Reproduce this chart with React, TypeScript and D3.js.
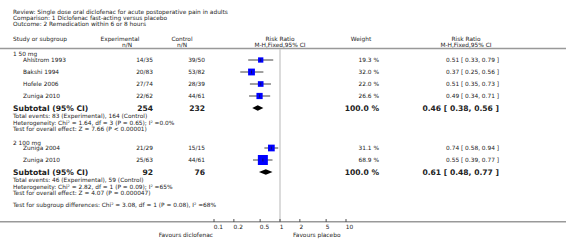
import React from "react";
import * as d3 from "d3";

const titleLines = [
  "Review:  Single dose oral diclofenac for acute postoperative pain in adults",
  "Comparison:  1 Diclofenac fast-acting versus placebo",
  "Outcome:  2 Remedication within 6 or 8 hours",
];

const g1Name = "1 50 mg";
const g1Studies = ["Ahlstrom 1993", "Bakshi 1994", "Hofele 2006", "Zuniga 2010"];
const g1ExpEvents = [14, 20, 27, 22];
const g1ExpTotal = [35, 83, 74, 62];
const g1CtlEvents = [39, 53, 28, 44];
const g1CtlTotal = [50, 82, 39, 61];
const g1Weight = [19.3, 32.0, 22.0, 26.6];
const g1RR = [0.51, 0.37, 0.51, 0.49];
const g1Lo = [0.33, 0.25, 0.35, 0.34];
const g1Hi = [0.79, 0.56, 0.73, 0.71];
const g1Sub = { exp: 254, ctl: 232, rr: 0.46, lo: 0.38, hi: 0.56 };
const g1Foot = [
  "Total events: 83 (Experimental), 164 (Control)",
  "Heterogeneity: Chi² = 1.64, df = 3 (P = 0.65); I² =0.0%",
  "Test for overall effect: Z = 7.66 (P < 0.00001)",
];

const g2Name = "2 100 mg";
const g2Studies = ["Zuniga 2004", "Zuniga 2010"];
const g2ExpEvents = [21, 25];
const g2ExpTotal = [29, 63];
const g2CtlEvents = [15, 44];
const g2CtlTotal = [15, 61];
const g2Weight = [31.1, 68.9];
const g2RR = [0.74, 0.55];
const g2Lo = [0.58, 0.39];
const g2Hi = [0.94, 0.77];
const g2Sub = { exp: 92, ctl: 76, rr: 0.61, lo: 0.48, hi: 0.77 };
const g2Foot = [
  "Total events: 46 (Experimental), 59 (Control)",
  "Heterogeneity: Chi² = 2.82, df = 1 (P = 0.09); I² =65%",
  "Test for overall effect: Z = 4.07 (P = 0.000047)",
];

const subgroupTest = "Test for subgroup differences: Chi² = 3.08, df = 1 (P = 0.08), I² =68%";
const axisTicks = [0.1, 0.2, 0.5, 1, 2, 5, 10];
const favoursLeft = "Favours diclofenac";
const favoursRight = "Favours placebo";

const FONT = "DejaVu Sans, Verdana, sans-serif";
const TXT = "#222";
const f2 = (v: number) => v.toFixed(2);

export default function App() {
  const W = 566, H = 245;
  const x = d3.scaleLog().domain([0.1, 10]).range([214, 346]);
  const maxW = d3.max([...g1Weight, ...g2Weight]) as number;
  const side = d3.scaleSqrt().domain([0, maxW]).range([0, 10]);

  const colExp = 153, colCtl = 205, colW = 379, colRR = 499;
  const sm = 5.85, bd = 7.6;

  const T = (props: any) => (
    <text fontFamily={FONT} fontSize={sm} fill={TXT} {...props} />
  );
  const B = (props: any) => (
    <text fontFamily={FONT} fontSize={bd} fontWeight="bold" fill={TXT} {...props} />
  );

  const renderGroup = (
    name: string, yName: number, rowY: number[], studies: string[],
    ee: number[], et: number[], ce: number[], ct: number[], w: number[],
    rr: number[], lo: number[], hi: number[], sub: any, ySub: number,
    foot: string[], yFoot: number[]
  ) => (
    <g>
      <T x={13} y={yName + 2.1}>{name}</T>
      {studies.map((s, i) => {
        const y = rowY[i];
        const sz = side(w[i]);
        return (
          <g key={s + i}>
            <T x={23} y={y + 2.1}>{s}</T>
            <T x={colExp} y={y + 2.1} textAnchor="end">{`${ee[i]}/${et[i]}`}</T>
            <T x={colCtl} y={y + 2.1} textAnchor="end">{`${ce[i]}/${ct[i]}`}</T>
            <T x={colW} y={y + 2.1} textAnchor="end">{`${w[i].toFixed(1)} %`}</T>
            <T x={colRR} y={y + 2.1} textAnchor="end">{`${f2(rr[i])} [ ${f2(lo[i])}, ${f2(hi[i])} ]`}</T>
            <line x1={x(lo[i])} x2={x(hi[i])} y1={y} y2={y} stroke="#111" strokeWidth={0.8} />
            <rect x={x(rr[i]) - sz / 2} y={y - sz / 2} width={sz} height={sz} fill="#0000ff" />
            <line x1={x(rr[i])} x2={x(rr[i])} y1={y - 1.5} y2={y + 1.5} stroke="#111" strokeWidth={0.6} />
          </g>
        );
      })}
      <B x={13} y={ySub + 2.7}>Subtotal (95% CI)</B>
      <B x={colExp} y={ySub + 2.7} textAnchor="end">{sub.exp}</B>
      <B x={colCtl} y={ySub + 2.7} textAnchor="end">{sub.ctl}</B>
      <B x={colW} y={ySub + 2.7} textAnchor="end">100.0 %</B>
      <B x={colRR} y={ySub + 2.7} textAnchor="end">{`${f2(sub.rr)} [ ${f2(sub.lo)}, ${f2(sub.hi)} ]`}</B>
      <path
        d={`M${x(sub.lo)},${ySub} L${x(sub.rr)},${ySub - 2.8} L${x(sub.hi)},${ySub} L${x(sub.rr)},${ySub + 2.8} Z`}
        fill="#000"
      />
      {foot.map((t, i) => (
        <T key={i} x={13} y={yFoot[i] + 2.1}>{t}</T>
      ))}
    </g>
  );

  return (
    <svg width={W} height={H} style={{ position: "absolute", left: 0, top: 0, background: "#fff" }}>
      <rect width={W} height={H} fill="#fff" />
      {titleLines.map((t, i) => (
        <T key={i} x={13} y={[12, 18.3, 24.3][i] + 2.1}>{t}</T>
      ))}
      <T x={13} y={39 + 2.1}>Study or subgroup</T>
      <T x={120} y={39 + 2.1} textAnchor="middle">Experimental</T>
      <T x={127} y={45 + 2.1} textAnchor="middle">n/N</T>
      <T x={182} y={39 + 2.1} textAnchor="middle">Control</T>
      <T x={182} y={45 + 2.1} textAnchor="middle">n/N</T>
      <T x={280} y={39 + 2.1} textAnchor="middle">Risk Ratio</T>
      <T x={280} y={45 + 2.1} textAnchor="middle">M-H,Fixed,95% CI</T>
      <T x={361} y={39 + 2.1} textAnchor="middle">Weight</T>
      <T x={466} y={39 + 2.1} textAnchor="middle">Risk Ratio</T>
      <T x={466} y={45 + 2.1} textAnchor="middle">M-H,Fixed,95% CI</T>
      <line x1={0} x2={W} y1={48.5} y2={48.5} stroke="#999" strokeWidth={1.4} />
      <line x1={x(1)} x2={x(1)} y1={49} y2={221} stroke="#ccc" strokeWidth={1.4} />

      {renderGroup(g1Name, 54, [60, 72, 84, 96], g1Studies, g1ExpEvents, g1ExpTotal, g1CtlEvents, g1CtlTotal,
        g1Weight, g1RR, g1Lo, g1Hi, g1Sub, 108, g1Foot, [115.5, 122.5, 129])}
      {renderGroup(g2Name, 142.5, [148, 160], g2Studies, g2ExpEvents, g2ExpTotal, g2CtlEvents, g2CtlTotal,
        g2Weight, g2RR, g2Lo, g2Hi, g2Sub, 172, g2Foot, [179.5, 186.5, 193])}
      <T x={13} y={205 + 2.1}>{subgroupTest}</T>

      <line x1={0} x2={W} y1={221.8} y2={221.8} stroke="#999" strokeWidth={1.4} />
      {axisTicks.map((t) => (
        <g key={t}>
          <line x1={x(t)} x2={x(t)} y1={219} y2={221.8} stroke="#222" strokeWidth={0.8} />
          <T x={x(t) - 0.3} y={227 + 2.1}>{String(t)}</T>
        </g>
      ))}
      <T x={213} y={235 + 2.1} textAnchor="end">{favoursLeft}</T>
      <T x={293} y={235 + 2.1}>{favoursRight}</T>
    </svg>
  );
}
